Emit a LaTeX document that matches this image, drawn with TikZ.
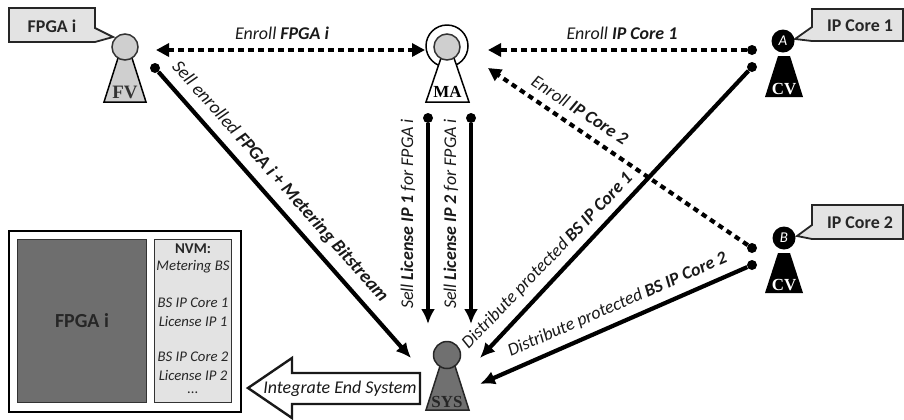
\documentclass[tikz,border=0pt]{standalone}
\usepackage{fontspec}
\setmainfont{Carlito}
\newfontfamily\serifx{Liberation Serif}
\usetikzlibrary{arrows.meta}
\definecolor{lg}{HTML}{CFCFCF}
\definecolor{cg}{HTML}{E3E3E3}
\definecolor{dg}{HTML}{6E6E6E}
\definecolor{mg}{HTML}{707070}
\tikzset{
 x=1bp,y=-1bp,
 lbl/.style={font=\fontsize{18}{18}\selectfont\itshape,inner sep=0pt,text=black!90},
 actortxt/.style={font=\fontsize{17}{17}\selectfont\serifx\bfseries,inner sep=0pt},
 flow/.style={line width=4.2bp,-{Latex[length=15bp,width=14bp]}},
 flowdash/.style={line width=4.2bp,dash pattern=on 5.5bp off 4.5bp},
 dtip/.tip={Triangle[length=13bp,width=13bp]},
 dot/.style={circle,fill=black,inner sep=0pt,minimum size=10bp},
 call/.style={draw=black!85,line width=1.8bp,fill=cg,line join=miter},
 calltxt/.style={font=\fontsize{18}{18}\selectfont\bfseries,inner sep=0pt,text=black!85},
 nvmtxt/.style={font=\fontsize{14.8}{15}\selectfont\itshape,inner sep=0pt,text=black!85},
}
\begin{document}
\begin{tikzpicture}
\useasboundingbox (0,0) rectangle (904,419);
% callouts
\draw[call] (9,8)--(95,8)--(95,28)--(113,37)--(95,42)--(9,42)--cycle;
\node[calltxt] (lf) at (52,26) {FPGA i};
\draw[call] (812,9)--(903,9)--(903,41)--(812,41)--(795,39)--(812,27)--cycle;
\node[calltxt] (l1) at (860,26) {IP Core 1};
\draw[call] (812,205)--(903,205)--(903,239)--(812,239)--(797,236)--(812,225)--cycle;
\node[calltxt] (l2) at (860,223) {IP Core 2};
% FV
\draw[line width=1.5bp,fill=lg] (118,58)--(132,58)--(146,102)--(104,102)--cycle;
\node[circle,draw=black!80,line width=1.5bp,fill=lg,inner sep=0pt,minimum size=26bp] (fv) at (125,47) {};
\node[actortxt,text=black!80,font=\fontsize{19}{19}\selectfont\serifx\bfseries] (fvt) at (125,92) {FV};
% MA
\node[circle,draw,line width=1.5bp,fill=white,inner sep=0pt,minimum size=42bp] (maout) at (447,46) {};
\draw[line width=1.5bp,fill=white] (441,58)--(454,58)--(469,102)--(426,102)--cycle;
\node[circle,draw=black!80,line width=1.5bp,fill=lg,inner sep=0pt,minimum size=26bp] (ma) at (447,47) {};
\node[actortxt] (mat) at (447.5,92) {MA};
% CV A
\fill (778,56)--(790,56)--(803,97)--(765,97)--cycle;
\node[circle,fill=black,inner sep=0pt,minimum size=23bp,text=white,font=\fontsize{15}{15}\selectfont\itshape] (cva) at (783,41) {A};
\node[actortxt,text=white] (cvat) at (784,89) {CV};
% CV B
\fill (778,253)--(790,253)--(803,293)--(765,293)--cycle;
\node[circle,fill=black,inner sep=0pt,minimum size=23bp,text=white,font=\fontsize{15}{15}\selectfont\itshape] (cvb) at (784,238) {B};
\node[actortxt,text=white] (cvbt) at (784,285) {CV};
% SYS
\draw[line width=1.5bp,fill=mg,draw=black!85] (440,366)--(455,366)--(469,410)--(426,410)--cycle;
\node[circle,draw=black!85,line width=1.5bp,fill=mg,inner sep=0pt,minimum size=27bp] (sys) at (447,355) {};
\node[actortxt,text=black!85] (syst) at (447,402) {SYS};
% endpoints
\coordinate (a1) at (156,50); \coordinate (a2) at (425,50);
\coordinate (b2) at (488,50);
\coordinate (c2) at (488,68);
\coordinate (d2) at (411,358);
\coordinate (e2) at (428,324);
\coordinate (f2) at (471,324);
\coordinate (g2) at (480,358);
\coordinate (h2) at (480,384);
\node[dot] (b1) at (752,50) {};
\node[dot] (c1) at (752,248) {};
\node[dot] (d1) at (155,68) {};
\node[dot] (e1) at (428,118) {};
\node[dot] (f1) at (471,118) {};
\node[dot] (g1) at (752,67) {};
\node[dot] (h1) at (752,265) {};
% connectors
\draw[flowdash,dtip-dtip] (a1)--(a2);
\draw[flowdash,-dtip] (b1)--(b2);
\draw[flowdash,-dtip] (c1)--(c2);
\draw[flow] (d1)--(d2);
\draw[flow] (e1)--(e2);
\draw[flow] (f1)--(f2);
\draw[flow] (g1)--(g2);
\draw[flow] (h1)--(h2);
% labels
\node[lbl] (t1) at (282,33) {Enroll \textbf{FPGA i}};
\node[lbl] (t2) at (622,33) {Enroll \textbf{IP Core 1}};
\node[lbl,rotate=-33] (t3) at (580,110) {Enroll \textbf{IP Core 2}};
\node[lbl,rotate=-48.3,font=\fontsize{18.7}{18.7}\selectfont\itshape] (t4) at (280,182) {Sell enrolled \textbf{FPGA i + Metering Bitstream}};
\node[lbl,rotate=90] (t5) at (408,214) {Sell \textbf{License IP 1} for FPGA i};
\node[lbl,rotate=90] (t6) at (451,214) {Sell \textbf{License IP 2} for FPGA i};
\node[lbl,rotate=46] (t7) at (547.5,261) {Distribute protected \textbf{BS IP Core 1}};
\node[lbl,rotate=23.5] (t9) at (617.5,305) {Distribute protected \textbf{BS IP Core 2}};
% big arrow
\draw[line width=2.4bp,fill=white,draw=black!90] (248,388)--(292,358)--(292,373)--(420,373)--(420,404)--(292,404)--(292,418)--cycle;
\node[font=\fontsize{18}{18}\selectfont\itshape,inner sep=0pt,text=black!90] (t10) at (340,389) {Integrate End System};
% end system
\draw[line width=2.6bp,fill=white] (9,231)--(241,231)--(241,412)--(9,412)--cycle;
\node[draw=black!80,line width=1bp,fill=dg,minimum width=128bp,minimum height=163bp,inner sep=0pt,
 font=\fontsize{20}{20}\selectfont\bfseries,text=black!85] (fpga) at (82,320.5) {FPGA i};
\node[draw=black!80,line width=1bp,fill=cg,minimum width=77bp,minimum height=163bp,inner sep=0pt] (nvm) at (193,320.5) {};
\node[inner sep=0pt,font=\fontsize{15}{15}\selectfont\bfseries,text=black!85] (n0) at (193,249) {NVM:};
\node[nvmtxt] (n1) at (193,267) {Metering BS};
\node[nvmtxt] (n2) at (193,303) {BS IP Core 1};
\node[nvmtxt] (n3) at (193,321) {License IP 1};
\node[nvmtxt] (n4) at (193,357) {BS IP Core 2};
\node[nvmtxt] (n5) at (193,375) {License IP 2};
\node[nvmtxt] (n6) at (193,393) {...};
\end{tikzpicture}
\end{document}
